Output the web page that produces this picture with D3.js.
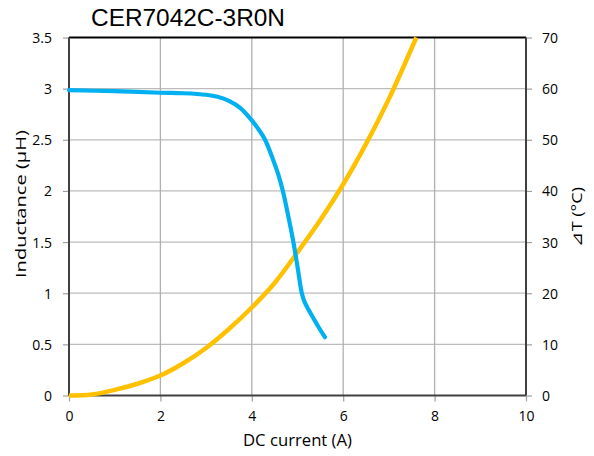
<!DOCTYPE html>
<html><head><meta charset="utf-8">
<script src="https://cdn.jsdelivr.net/npm/d3@7"></script>
<style>body{margin:0;background:#fff}svg{display:block}text{font-family:"Open Sans","Noto Sans",sans-serif;fill:#000}</style>
</head><body>
<svg id="c" width="594" height="456"></svg>
<script>
const title = "CER7042C-3R0N";
const xTicks = [0, 2, 4, 6, 8, 10];
const yLeftTicks = [0, 0.5, 1, 1.5, 2, 2.5, 3, 3.5];
const yRightTicks = [0, 10, 20, 30, 40, 50, 60, 70];
const indCurrent = [0, 1, 2, 2.5, 3, 3.25, 3.5, 3.75, 4, 4.15, 4.29, 4.47, 4.58, 4.68, 4.8, 4.91, 5.0, 5.09, 5.15, 5.24, 5.46, 5.6];
const indValue   = [2.985, 2.975, 2.96, 2.955, 2.94, 2.92, 2.88, 2.81, 2.69, 2.6, 2.5, 2.3, 2.16, 2.0, 1.75, 1.5, 1.26, 1.01, 0.92, 0.84, 0.67, 0.57];
const tempCurrent = [0, 0.5, 1, 1.5, 2, 2.5, 3, 3.5, 4, 4.5, 5, 5.5, 6, 6.5, 7, 7.6];
const tempValue   = [0, 0.2, 1.1, 2.3, 3.9, 6.3, 9.3, 13, 17.2, 22, 28, 34.3, 41.3, 49.2, 58, 70];

const svg = d3.select("#c");
const L = 69, R = 526, T = 37.5, B = 395.5;
const x = d3.scaleLinear().domain([0, 10]).range([L, R]);
const yL = d3.scaleLinear().domain([0, 3.5]).range([B, T]);
const yR = d3.scaleLinear().domain([0, 70]).range([B, T]);

// gridlines
svg.append("g").selectAll("line").data(yLeftTicks.slice(1, -1)).join("line")
  .attr("x1", L).attr("x2", R).attr("y1", d => yL(d)).attr("y2", d => yL(d))
  .attr("stroke", "#bcbcbc").attr("stroke-width", 1.3);
svg.append("g").selectAll("line").data(xTicks.slice(1, -1)).join("line")
  .attr("x1", d => x(d)).attr("x2", d => x(d)).attr("y1", T).attr("y2", B)
  .attr("stroke", "#b0b0b0").attr("stroke-width", 1.3);

// axes
const axL = svg.append("g").attr("transform", `translate(${L},0)`)
  .call(d3.axisLeft(yL).tickValues(yLeftTicks).tickSize(6).tickPadding(11).tickFormat(d => String(d)));
const axR = svg.append("g").attr("transform", `translate(${R},0)`)
  .call(d3.axisRight(yR).tickValues(yRightTicks).tickSize(6).tickPadding(10).tickFormat(d => String(d)));
const axB = svg.append("g").attr("transform", `translate(0,${B})`)
  .call(d3.axisBottom(x).tickValues(xTicks).tickSize(6).tickPadding(10).tickFormat(d => String(d)));
[axL, axR, axB].forEach(a => {
  a.select(".domain").remove();
  a.selectAll(".tick line").attr("stroke", "#a0a0a0").attr("stroke-width", 1.2);
  a.selectAll(".tick text").style("font-size", "14px").attr("fill", "#000");
});
axL.selectAll(".tick text").attr("dy", "0.36em");
axR.selectAll(".tick text").attr("dy", "0.36em");

// frame
svg.append("line").attr("x1", L).attr("x2", R).attr("y1", T).attr("y2", T).attr("stroke", "#000").attr("stroke-width", 2);
svg.append("line").attr("x1", L).attr("x2", L).attr("y1", T).attr("y2", B).attr("stroke", "#404040").attr("stroke-width", 2);
svg.append("line").attr("x1", R).attr("x2", R).attr("y1", T).attr("y2", B).attr("stroke", "#404040").attr("stroke-width", 2);
svg.append("line").attr("x1", L).attr("x2", R).attr("y1", B).attr("y2", B).attr("stroke", "#404040").attr("stroke-width", 2);

// curves
const indData = indCurrent.map((c, i) => [c, indValue[i]]);
const tempData = tempCurrent.map((c, i) => [c, tempValue[i]]);
svg.append("path").datum(tempData)
  .attr("d", d3.line().x(d => x(d[0])).y(d => yR(d[1])).curve(d3.curveCatmullRom.alpha(0.5)))
  .attr("fill", "none").attr("stroke", "#FFC000").attr("stroke-width", 4.5).attr("stroke-linecap", "butt");
svg.append("path").datum(indData)
  .attr("d", d3.line().x(d => x(d[0])).y(d => yL(d[1])).curve(d3.curveCatmullRom.alpha(0.5)))
  .attr("fill", "none").attr("stroke", "#00B0F0").attr("stroke-width", 4.2).attr("stroke-linecap", "round");

// titles
svg.append("text").attr("x", 91).attr("y", 25.5).style("font-size", "24px")
  .attr("textLength", 194).attr("lengthAdjust", "spacingAndGlyphs")
  .style("font-family", "'Liberation Sans', Arial, sans-serif").text(title);
svg.append("text").attr("x", (L + R) / 2).attr("y", 446).attr("text-anchor", "middle")
  .style("font-size", "16px").attr("textLength", 109).attr("lengthAdjust", "spacingAndGlyphs").text("DC current (A)");
svg.append("text").attr("transform", "translate(26,204) rotate(-90)").attr("text-anchor", "middle")
  .style("font-size", "15px").attr("textLength", 148).attr("lengthAdjust", "spacingAndGlyphs").text("Inductance (μH)");
svg.append("text").attr("transform", "translate(582,217) rotate(-90)").attr("text-anchor", "middle")
  .style("font-size", "15px").attr("textLength", 60).attr("lengthAdjust", "spacingAndGlyphs").text("⊿T (°C)");
</script>
</body></html>
